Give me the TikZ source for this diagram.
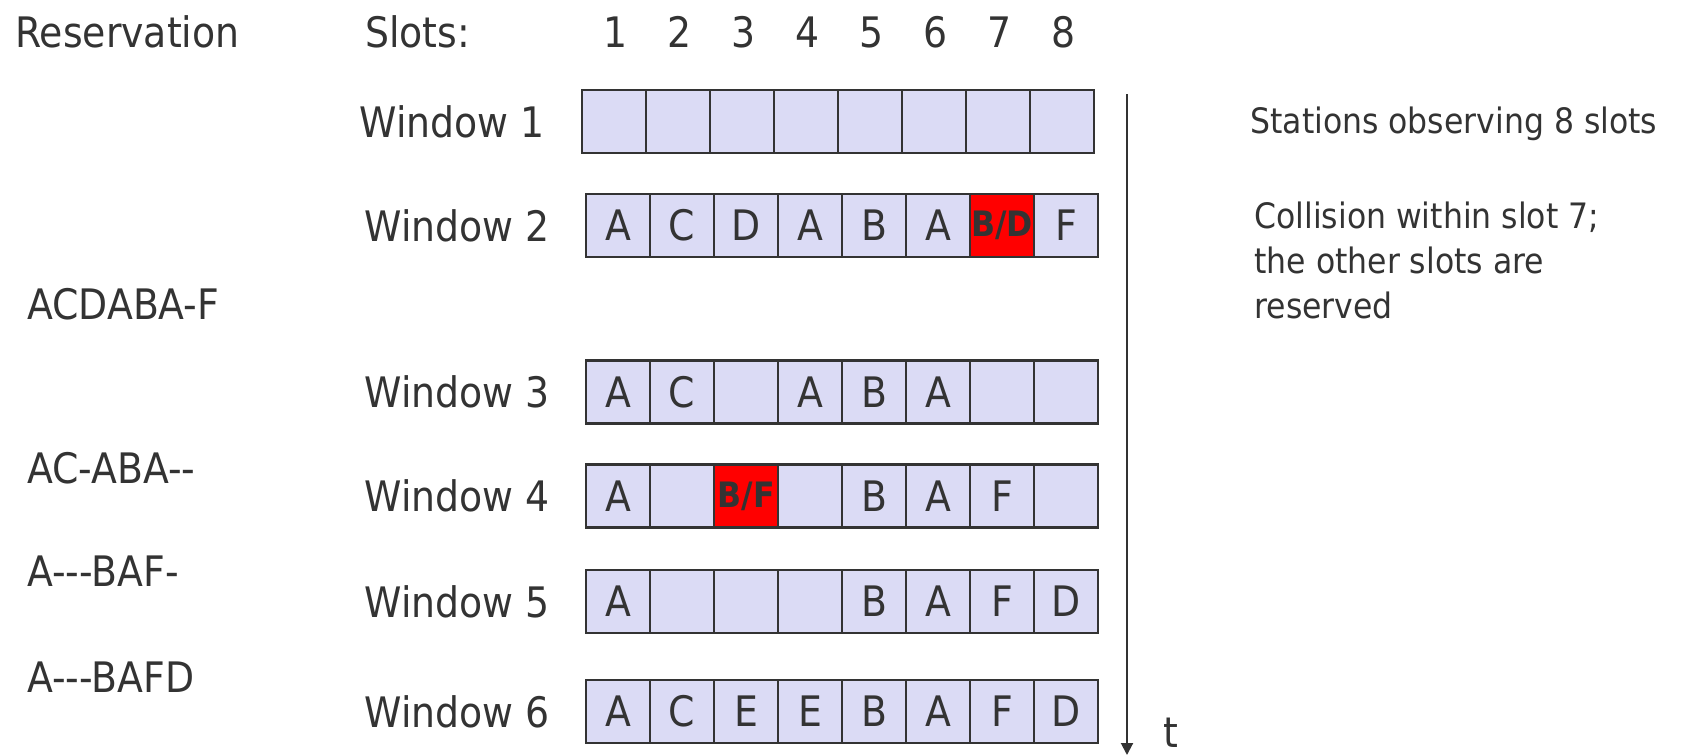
\documentclass[tikz,border=0pt]{standalone}
\usepackage{fontspec}
\usepackage{tikz}
\usetikzlibrary{positioning,arrows.meta}
\newfontfamily\dgmfont{DejaVu Sans Condensed}
\definecolor{slotfill}{RGB}{219,219,245}
\definecolor{ink}{RGB}{51,51,51}
\definecolor{hitred}{RGB}{255,0,0}
\tikzset{
  cell/.style ={draw=ink, fill=slotfill, line width=1.4pt, minimum width=32pt,
                minimum height=31.5pt, inner sep=0pt, text=ink,
                font=\dgmfont\fontsize{21}{24}\selectfont},
  hit/.style  ={cell, fill=hitred, font=\dgmfont\bfseries\fontsize{17.5}{20}\selectfont},
  lbl/.style  ={text=ink, inner sep=0pt, font=\dgmfont\fontsize{21}{24}\selectfont},
  note/.style ={text=ink, inner sep=0pt, align=left,
                font=\dgmfont\fontsize{17.5}{22.5}\selectfont},
  tarr/.style ={-{Triangle[length=6pt,width=6pt]}, draw=ink, line width=1pt},
}

\begin{document}
\begin{tikzpicture}[x=0.5pt,y=-0.5pt]
\useasboundingbox (0,0) rectangle (1682,755);

% header
\node[lbl,anchor=west] (resv) at (15,32) {Reservation};
\node[lbl,anchor=west] (slots) at (365,32) {Slots:};
\foreach \i in {1,...,8}
  \node[lbl] (num-\i) at ({616+64*(\i-1)},32) {\i};

% Window 1
\node[lbl,anchor=east] (w1) at (545,121.5) {Window 1};
\foreach \i in {1,...,8}
  \node[cell] (w1-\i) at ({582+64*\i-32},121.5) {};

% Window 2
\node[lbl,anchor=east] (w2) at (550,225.5) {Window 2};
\foreach \i/\c/\s in {1/A/cell,2/C/cell,3/D/cell,4/A/cell,5/B/cell,6/A/cell,7/B\slash D/hit,8/F/cell}
  \node[\s] (w2-\i) at ({586+64*\i-32},225.5) {\c};

% Window 3
\node[lbl,anchor=east] (w3) at (550,392) {Window 3};
\foreach \i/\c/\s in {1/A/cell,2/C/cell,3//cell,4/A/cell,5/B/cell,6/A/cell,7//cell,8//cell}
  \node[\s] (w3-\i) at ({586+64*\i-32},392) {\c};

% Window 4
\node[lbl,anchor=east] (w4) at (550,496) {Window 4};
\foreach \i/\c/\s in {1/A/cell,2//cell,3/B\slash F/hit,4//cell,5/B/cell,6/A/cell,7/F/cell,8//cell}
  \node[\s] (w4-\i) at ({586+64*\i-32},496) {\c};

% Window 5
\node[lbl,anchor=east] (w5) at (550,601.5) {Window 5};
\foreach \i/\c/\s in {1/A/cell,2//cell,3//cell,4//cell,5/B/cell,6/A/cell,7/F/cell,8/D/cell}
  \node[\s] (w5-\i) at ({586+64*\i-32},601.5) {\c};

% Window 6
\node[lbl,anchor=east] (w6) at (550,711.5) {Window 6};
\foreach \i/\c/\s in {1/A/cell,2/C/cell,3/E/cell,4/E/cell,5/B/cell,6/A/cell,7/F/cell,8/D/cell}
  \node[\s] (w6-\i) at ({586+64*\i-32},711.5) {\c};

% reservations seen by the stations
\node[lbl,anchor=west] (r2) at (27,304) {ACDABA-F};
\node[lbl,anchor=west] (r3) at (27,468) {AC-ABA--};
\node[lbl,anchor=west] (r4) at (27,571) {A---BAF-};
\node[lbl,anchor=west] (r5) at (27,677) {A---BAFD};

% time axis
\coordinate (t0) at (1127,94);
\coordinate (t1) at (1127,755);
\draw[tarr] (t0) -- (t1);
\node[lbl] (tlbl) at (1171,733) {t};

% notes
\node[note,anchor=west] (obs) at (1250,124) {Stations observing 8 slots};
\node[note,anchor=west] (coll) at (1254,260) {Collision within slot 7;\\the other slots are\\reserved};
\end{tikzpicture}
\end{document}
